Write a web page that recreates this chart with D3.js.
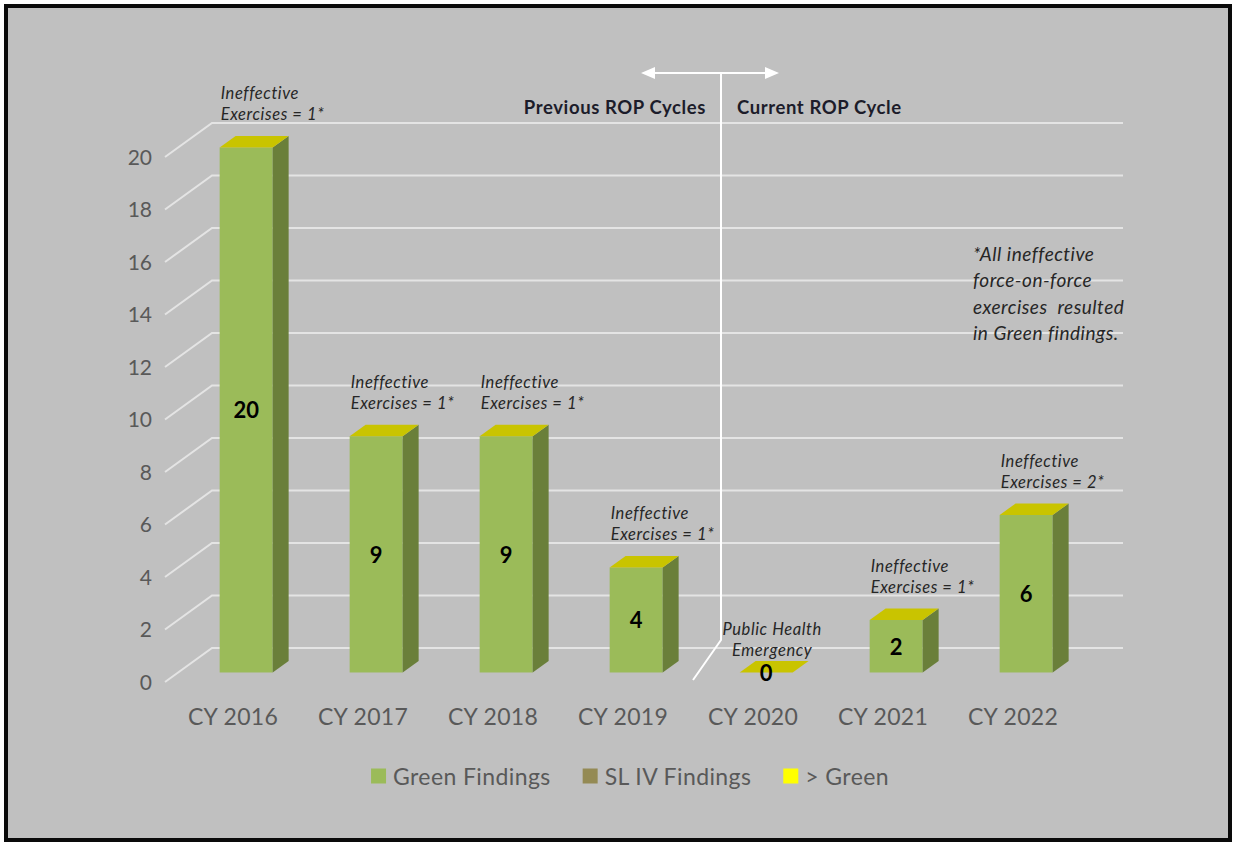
<!DOCTYPE html>
<html>
<head>
<meta charset="utf-8">
<script src="https://cdn.jsdelivr.net/npm/d3@7"></script>
<style>
  html, body { margin: 0; padding: 0; background: #ffffff; overflow: hidden; }
  svg { display: block; }
</style>
</head>
<body>
<svg id="chart" width="1233" height="844"></svg>
<script>
// ---- data ----
const categories = ["CY 2016", "CY 2017", "CY 2018", "CY 2019", "CY 2020", "CY 2021", "CY 2022"];
const greenFindings = [20, 9, 9, 4, 0, 2, 6];
const slIvFindings = [0, 0, 0, 0, 0, 0, 0];
const greaterThanGreen = [0, 0, 0, 0, 0, 0, 0];
const yTicks = [0, 2, 4, 6, 8, 10, 12, 14, 16, 18, 20];
const seriesNames = ["Green Findings", "SL IV Findings", "> Green"];
const barNotes = [
  ["Ineffective", "Exercises = 1*"],
  ["Ineffective", "Exercises = 1*"],
  ["Ineffective", "Exercises = 1*"],
  ["Ineffective", "Exercises = 1*"],
  ["Public Health", "Emergency"],
  ["Ineffective", "Exercises = 1*"],
  ["Ineffective", "Exercises = 2*"]
];
const cycleLabels = ["Previous ROP Cycles", "Current ROP Cycle"];
const footnoteLines = ["*All ineffective", "force-on-force", "exercises  resulted", "in Green findings."];

// ---- styling ----
const FONT = "Lato, 'Open Sans', sans-serif";
const seriesColors = ["#9bbb59", "#948a54", "#ffff00"];
const sideColors = ["#6a7f3a", "#6b6439", "#b8b800"];
const topColors = ["#b9d27a", "#a89e68", "#c9c400"];
const gridColor = "#e4e4e4";

const svg = d3.select("#chart");

// frame
svg.append("rect").attr("x", 6).attr("y", 6).attr("width", 1224).attr("height", 834)
  .attr("fill", "#c0c0c0").attr("stroke", "#0a0a0a").attr("stroke-width", 4);

// ---- scales (front plane of the 3D box) ----
const x = d3.scaleBand().domain(categories).range([168, 1078]).padding(0);
const y = d3.scaleLinear().domain([0, 20]).range([682, 157]);
const depth = { dx: 47, dy: -34 };     // full depth of the box (front -> back wall)
const barFront = 0.28, barDepth = 0.34; // bar position inside the depth
const barWidth = 53;
const leftX = 165, rightX = 1123;

const cx = c => x(c) + x.bandwidth() / 2;

// ---- gridlines: left side wall diagonals + back wall ----
const grid = svg.append("g").attr("stroke", gridColor).attr("stroke-width", 2).attr("fill", "none");
yTicks.forEach(t => {
  grid.append("path").attr("d", d3.line()([
    [leftX, y(t)], [leftX + depth.dx, y(t) + depth.dy], [rightX, y(t) + depth.dy]
  ]));
});

// y tick labels
svg.append("g").selectAll("text").data(yTicks).join("text")
  .attr("x", 152).attr("y", d => y(d) - 1)
  .attr("text-anchor", "end").attr("dominant-baseline", "central")
  .attr("font-family", FONT).attr("font-size", 21).attr("fill", "#595959")
  .text(d => d);

// category labels
svg.append("g").selectAll("text").data(categories).join("text")
  .attr("x", d => cx(d)).attr("y", 716)
  .attr("text-anchor", "middle").attr("dominant-baseline", "central")
  .attr("font-family", FONT).attr("font-size", 23).attr("letter-spacing", 0.3).attr("fill", "#595959")
  .text(d => d);

// ---- divider between ROP cycles ----
const div = svg.append("g").attr("stroke", "#ffffff").attr("fill", "none").attr("stroke-width", 2);
div.append("path").attr("d", d3.line()([[721, 73], [721, 640], [693, 680]]));
div.append("line").attr("x1", 650).attr("x2", 770).attr("y1", 73).attr("y2", 73);
svg.append("path").attr("fill", "#ffffff")
  .attr("d", "M641,73 L655,67 L655,79 Z M779,73 L765,67 L765,79 Z");

const headerStyle = sel => sel.attr("y", 107).attr("dominant-baseline", "central")
  .attr("font-family", FONT).attr("font-weight", 700).attr("font-size", 18.5)
  .attr("letter-spacing", 0.6).attr("fill", "#1c1c2a");
svg.append("text").call(headerStyle).attr("x", 706).attr("text-anchor", "end").text(cycleLabels[0]);
svg.append("text").call(headerStyle).attr("x", 737).attr("text-anchor", "start").text(cycleLabels[1]);

// ---- stacked 3D columns ----
const series = [greenFindings, slIvFindings, greaterThanGreen];
const ox = depth.dx * barFront, oy = depth.dy * barFront;       // bar front-face offset
const bdx = depth.dx * barDepth, bdy = depth.dy * barDepth;     // bar depth
const bars = svg.append("g");

categories.forEach((c, i) => {
  const left = cx(c) + ox - barWidth / 2;
  const right = left + barWidth;
  let base = 0;
  series.forEach((s, k) => {
    const v = s[i];
    const yb = y(base) + oy, yt = y(base + v) + oy;
    if (v > 0) {
      bars.append("rect").attr("x", left).attr("y", yt).attr("width", barWidth).attr("height", yb - yt)
        .attr("fill", seriesColors[k]);
      bars.append("path").attr("fill", sideColors[k]).attr("d", d3.line()([
        [right, yt], [right + bdx, yt + bdy], [right + bdx, yb + bdy], [right, yb]
      ]) + "Z");
    }
    base += v;
  });
  // top face carries the colour of the topmost series
  const top = series.length - 1;
  const yt = y(base) + oy;
  bars.append("path").attr("fill", topColors[top]).attr("d", d3.line()([
    [left, yt], [left + bdx, yt + bdy], [right + bdx, yt + bdy], [right, yt]
  ]) + "Z");
});

// value labels
svg.append("g").selectAll("text").data(categories).join("text")
  .attr("x", (c) => cx(c) + ox)
  .attr("y", (c, i) => (y(0) + y(greenFindings[i])) / 2 + oy)
  .attr("text-anchor", "middle").attr("dominant-baseline", "central")
  .attr("font-family", FONT).attr("font-weight", 700).attr("font-size", 22).attr("fill", "#000000")
  .text((c, i) => greenFindings[i]);

// notes above each bar
const notes = svg.append("g").attr("font-family", FONT).attr("font-style", "italic")
  .attr("font-size", 16.5).attr("letter-spacing", 0.6).attr("fill", "#262626");
categories.forEach((c, i) => {
  const total = greenFindings[i] + slIvFindings[i] + greaterThanGreen[i];
  const topY = y(total) + oy;
  const centered = total === 0;
  const gap = centered ? 22 : 33;
  const tx = centered ? cx(c) + ox + 6 : cx(c) + ox - barWidth / 2 + 1;
  const t = notes.append("text").attr("x", tx).attr("text-anchor", centered ? "middle" : "start");
  barNotes[i].forEach((line, j) => {
    t.append("tspan").attr("x", tx)
      .attr("y", topY - gap - 21 * (barNotes[i].length - 1 - j))
      .attr("dominant-baseline", "central").text(line);
  });
});

// footnote on the right
svg.append("g").selectAll("text").data(footnoteLines).join("text")
  .attr("x", 973).attr("y", (d, i) => 253 + i * 26.6)
  .attr("dominant-baseline", "central").attr("xml:space", "preserve")
  .attr("font-family", FONT).attr("font-style", "italic").attr("font-size", 19)
  .attr("letter-spacing", 0.5).attr("fill", "#262626")
  .text(d => d);

// ---- legend ----
const legend = svg.append("g");
let lx = 0;
seriesNames.forEach((name, k) => {
  const g = legend.append("g");
  g.append("rect").attr("x", 0).attr("y", -7.5).attr("width", 15).attr("height", 15).attr("fill", seriesColors[k]);
  const t = g.append("text").attr("x", 22).attr("y", 0).attr("dominant-baseline", "central")
    .attr("font-family", FONT).attr("font-size", 23).attr("letter-spacing", 0.4)
    .attr("fill", "#595959").text(name);
  const w = 22 + t.node().getComputedTextLength();
  g.attr("transform", `translate(${lx},0)`);
  lx += w + 32;
});
const legendWidth = lx - 32;
legend.attr("transform", `translate(${630 - legendWidth / 2},776)`);
</script>
</body>
</html>
